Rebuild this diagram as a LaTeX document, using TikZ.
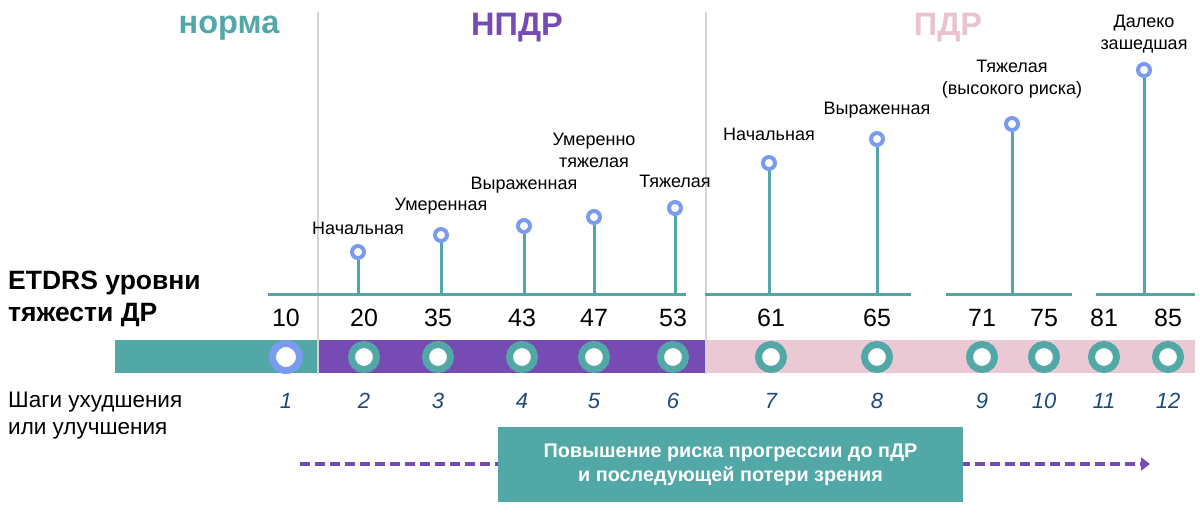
\documentclass[tikz,border=0pt]{standalone}
\usepackage{fontspec}
\setmainfont{Liberation Sans}
\usetikzlibrary{arrows.meta}
\definecolor{teal1}{RGB}{82,168,166}
\definecolor{purp}{RGB}{118,75,180}
\definecolor{pinkbar}{RGB}{234,201,213}
\definecolor{pinktxt}{RGB}{233,196,208}
\definecolor{ringblue}{RGB}{122,156,240}
\definecolor{stepblue}{RGB}{31,73,125}
\definecolor{sepgray}{RGB}{212,212,212}
\tikzset{
  lab/.style={font=\fontsize{18}{22}\selectfont, align=center, inner sep=0pt},
  num/.style={font=\fontsize{25}{28}\selectfont, inner sep=0pt},
  stepnum/.style={font=\fontsize{22}{24}\selectfont\itshape, text=stepblue, inner sep=0pt},
  ring/.style={circle, draw=teal1, line width=7pt, fill=white, minimum size=25pt, inner sep=0pt},
  ringb/.style={circle, draw=ringblue, line width=7pt, fill=white, minimum size=27pt, inner sep=0pt},
  tip/.style={circle, draw=ringblue, line width=4pt, fill=white, minimum size=12pt, inner sep=0pt},
  stem/.style={draw=teal1, line width=3pt},
  axisline/.style={draw=teal1, line width=3pt},
  sep/.style={draw=sepgray, line width=1.2pt},
  header/.style={font=\fontsize{32.5}{36}\selectfont\bfseries, inner sep=0pt},
  lefttxt/.style={font=\fontsize{26.5}{32}\selectfont\bfseries, align=left, inner sep=0pt, anchor=west},
  leftreg/.style={font=\fontsize{22.5}{27}\selectfont, align=left, inner sep=0pt, anchor=west},
  bigbox/.style={fill=teal1, text=white, font=\fontsize{19.8}{24}\selectfont\bfseries, align=center, minimum width=465pt, minimum height=75pt, inner sep=0pt},
  dasharrow/.style={draw=purp, line width=4pt, dash pattern=on 10pt off 5pt, -{Triangle[length=9pt,width=13pt]}}
}
\begin{document}
\begin{tikzpicture}[x=1pt,y=-1pt]
\useasboundingbox (0,0) rectangle (1200,515);
\fill[white] (0,0) rectangle (1200,515);

% bar
\fill[teal1] (115,340) rectangle (318,373);
\fill[purp] (318,340) rectangle (706,373);
\fill[pinkbar] (706,340) rectangle (1195,373);

% separators
\coordinate (s1t) at (318,12); \coordinate (s1b) at (318,374);
\coordinate (s2t) at (706,12); \coordinate (s2b) at (706,374);
\draw[sep] (s1t) -- (s1b);
\draw[sep] (s2t) -- (s2b);

% headers
\node[header, text=teal1] (hnorm) at (229,28) {норма};
\node[header, text=purp] (hnpdr) at (517,28) {НПДР};
\node[header, text=pinktxt] (hpdr) at (948,28) {ПДР};

% axis segments
\coordinate (a1s) at (268,294); \coordinate (a1e) at (686,294);
\coordinate (a2s) at (705,294); \coordinate (a2e) at (911,294);
\coordinate (a3s) at (946,294); \coordinate (a3e) at (1072,294);
\coordinate (a4s) at (1096,294); \coordinate (a4e) at (1195,294);
\draw[axisline] (a1s) -- (a1e);
\draw[axisline] (a2s) -- (a2e);
\draw[axisline] (a3s) -- (a3e);
\draw[axisline] (a4s) -- (a4e);

% stems and tips
\foreach \nm/\x/\y in {t2/358/252, t3/441/235, t4/524/226, t5/594/217, t6/675/208, t7/769/163, t8/877/139, t9/1012/124, t10/1144/70}{
  \coordinate (b\nm) at (\x,294);
  \node[tip] (\nm) at (\x,\y) {};
  \draw[stem] (b\nm) -- (\nm.south);
}

% lollipop labels
\node[lab] (l2) at (358,228) {Начальная};
\node[lab] (l3) at (441,206) {Умеренная};
\node[lab] (l4) at (524,185) {Выраженная};
\node[lab] (l5) at (594,150) {Умеренно\\тяжелая};
\node[lab] (l6) at (675,181) {Тяжелая};
\node[lab] (l7) at (769,134) {Начальная};
\node[lab] (l8) at (877,110) {Выраженная};
\node[lab] (l9) at (1012,79) {Тяжелая\\(высокого риска)};
\node[lab] (l10) at (1144,34) {Далеко\\зашедшая};

% left texts
\node[lefttxt] (etdrs) at (8,299) {ETDRS уровни\\тяжести ДР};
\node[leftreg] (steps) at (8,416) {Шаги ухудшения\\или улучшения};

% numbers, rings, steps
\foreach \i/\x/\v in {1/286/10, 2/364/20, 3/438/35, 4/522/43, 5/594/47, 6/673/53, 7/771/61, 8/877/65, 9/982/71, 10/1044/75, 11/1104/81, 12/1168/85}{
  \node[num] (n\i) at (\x,318) {\v};
  \node[stepnum] (st\i) at (\x,401) {\i};
}
\node[ringb] (r1) at (286,357) {};
\foreach \i/\x in {2/364, 3/438, 4/522, 5/594, 6/673, 7/771, 8/877, 9/982, 10/1044, 11/1104, 12/1168}{
  \node[ring] (r\i) at (\x,357) {};
}

% bottom arrow and box
\coordinate (arrs) at (300,464);
\coordinate (arre) at (1150,464);
\draw[dasharrow] (arrs) -- (arre);
\node[bigbox] (box) at (730.5,464.5) {Повышение риска прогрессии до пДР\\и последующей потери зрения};
\end{tikzpicture}
\end{document}
